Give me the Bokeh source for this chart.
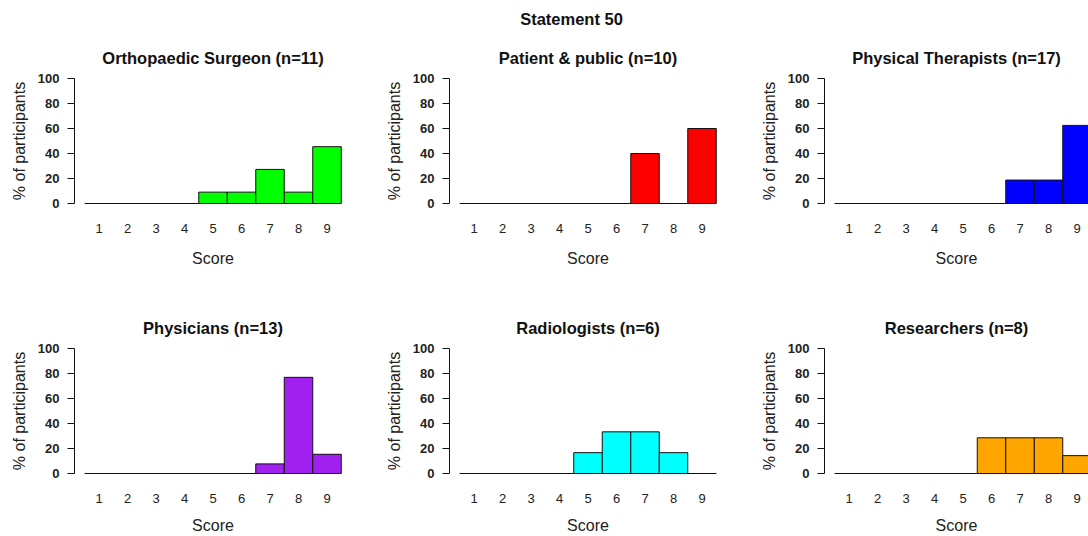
from bokeh.plotting import figure
from bokeh.layouts import column, row
from bokeh.models import Range1d, FixedTicker, Title
from bokeh.embed import file_html
from bokeh.resources import INLINE

main_title = "Statement 50"
scores = [1, 2, 3, 4, 5, 6, 7, 8, 9]
y_ticks = [0, 20, 40, 60, 80, 100]
x_label = "Score"
y_label = "% of participants"

groups = ["Orthopaedic Surgeon (n=11)", "Patient & public (n=10)", "Physical Therapists (n=17)",
          "Physicians (n=13)", "Radiologists (n=6)", "Researchers (n=8)"]
ortho = [0, 0, 0, 0, 9.09, 9.09, 27.27, 9.09, 45.45]
patient = [0, 0, 0, 0, 0, 0, 40.0, 0, 60.0]
physio = [0, 0, 0, 0, 0, 0, 18.75, 18.75, 62.5]
physicians = [0, 0, 0, 0, 0, 0, 7.69, 76.92, 15.38]
radiol = [0, 0, 0, 0, 16.67, 33.33, 33.33, 16.67, 0]
research = [0, 0, 0, 0, 0, 28.57, 28.57, 28.57, 14.29]
colors = ["#00FF00", "#FF0000", "#0000FF", "#A020F0", "#00FFFF", "#FFA500"]

FONT = "Liberation Sans"
PX_PER_UNIT = 28.5
FRAME_W = 277
LEFT = 74
HEADER_H = 40


def panel(title, vals, color, width, height, top_border, bottom_border, xl_standoff):
    frame_w = min(FRAME_W, width - LEFT)
    x0 = 0.14
    x1 = x0 + frame_w / PX_PER_UNIT
    p = figure(width=width, height=height, title=None, toolbar_location=None,
               output_backend="svg", x_range=Range1d(x0, x1), y_range=Range1d(-4, 104),
               min_border_left=LEFT, min_border_right=width - LEFT - frame_w,
               min_border_top=top_border, min_border_bottom=bottom_border)
    p.vbar(x=scores, top=vals, bottom=0, width=1, fill_color=color,
           line_color="#111111", line_width=1)
    p.xgrid.visible = False
    p.ygrid.visible = False
    p.outline_line_color = None
    p.background_fill_color = "white"
    p.border_fill_color = "white"

    xa = p.xaxis[0]
    xa.ticker = FixedTicker(ticks=scores)
    xa.axis_line_color = None
    xa.major_tick_line_color = None
    xa.minor_tick_line_color = None
    xa.major_label_standoff = 9
    xa.major_label_text_font = FONT
    xa.major_label_text_font_size = "13px"
    xa.major_label_text_color = "#222222"
    xa.axis_label = x_label
    xa.axis_label_text_font = FONT
    xa.axis_label_text_font_size = "16px"
    xa.axis_label_text_font_style = "normal"
    xa.axis_label_text_color = "#222222"
    xa.axis_label_standoff = xl_standoff

    ya = p.yaxis[0]
    ya.ticker = FixedTicker(ticks=y_ticks)
    ya.bounds = (0, 100)
    ya.axis_line_color = "#111111"
    ya.major_tick_line_color = "#111111"
    ya.major_tick_out = 7
    ya.major_tick_in = 0
    ya.minor_tick_line_color = None
    ya.major_label_standoff = 8
    ya.major_label_text_font = FONT
    ya.major_label_text_font_size = "13px"
    ya.major_label_text_font_style = "bold"
    ya.major_label_text_color = "#222222"
    ya.axis_label = y_label
    ya.axis_label_text_font = FONT
    ya.axis_label_text_font_size = "16px"
    ya.axis_label_text_font_style = "normal"
    ya.axis_label_text_color = "#222222"
    ya.axis_label_standoff = 7

    p.add_layout(Title(text=title, align="center", text_font=FONT, text_font_size="16.5px",
                       text_font_style="bold", text_color="#111111", standoff=13), "above")
    return p


# header strip carrying the overall title
header = figure(width=1088, height=HEADER_H, title=None, toolbar_location=None,
                output_backend="svg", x_axis_location=None, y_axis_location=None,
                x_range=Range1d(0, 1), y_range=Range1d(0, 1),
                min_border_left=54, min_border_right=0, min_border_top=27, min_border_bottom=0)
header.outline_line_color = None
header.xgrid.visible = False
header.ygrid.visible = False
header.add_layout(Title(text=main_title, align="center", text_font=FONT, text_font_size="16.5px",
                        text_font_style="bold", text_color="#111111", standoff=0), "above")

vals = [ortho, patient, physio, physicians, radiol, research]
widths = [375, 375, 338]
figs = []
for i in range(6):
    r, c = divmod(i, 3)
    if r == 0:
        f = panel(groups[i], vals[i], colors[i], widths[c], 270 - HEADER_H, 73 - HEADER_H, 62, 14)
    else:
        f = panel(groups[i], vals[i], colors[i], widths[c], 266, 73, 58, 11)
    figs.append(f)

layout = column(header, row(*figs[:3], spacing=0), row(*figs[3:], spacing=0), spacing=0)
open("out.html", "w").write(file_html(layout, INLINE))
